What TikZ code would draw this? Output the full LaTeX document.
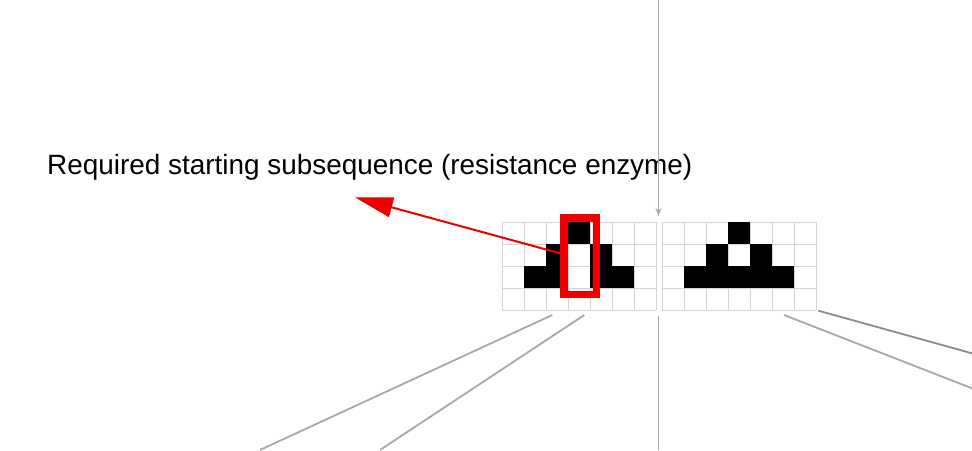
\documentclass[tikz,border=0pt]{standalone}
\usepackage{fontspec}
\setmainfont{Liberation Sans}
\usetikzlibrary{arrows.meta}
\definecolor{gridgray}{HTML}{D4D4D4}
\definecolor{linegray}{HTML}{A8A8A8}
\definecolor{darkgray2}{HTML}{8C8C8C}
\definecolor{redc}{HTML}{EE0000}
\tikzset{
  gridline/.style={draw=gridgray, line width=1pt},
  cellfill/.style={fill=black},
  grayline/.style={draw=linegray, line width=1.8pt},
  darkline/.style={draw=darkgray2, line width=1.8pt},
  redbox/.style={draw=redc, line width=7.3pt, minimum width=32.3pt, minimum height=76.7pt, inner sep=0pt},
  redarrow/.style={draw=redc, line width=2pt, -{Triangle[length=38pt,width=20pt]}},
  label/.style={font=\fontsize{27.9}{32}\selectfont, inner sep=0pt, anchor=base west},
  gridbox/.style={minimum width=154pt, minimum height=88pt, inner sep=0pt}
}
\begin{document}
\begin{tikzpicture}[x=1pt,y=-1pt]
\useasboundingbox[fill=white] (0,0) rectangle (972,450);
% grids
\node[gridbox] (gridL) at (579,266) {};
\node[gridbox] (gridR) at (739,266) {};
\foreach \x in {0,...,7} {
  \draw[gridline] (502+22*\x,222) -- (502+22*\x,310);
  \draw[gridline] (662+22*\x,222) -- (662+22*\x,310);
}
\foreach \y in {0,...,4} {
  \draw[gridline] (502,222+22*\y) -- (656,222+22*\y);
  \draw[gridline] (662,222+22*\y) -- (816,222+22*\y);
}
\foreach \c/\r in {3/0,2/1,4/1,1/2,2/2,4/2,5/2}
  \fill[cellfill] (502+22*\c,222+22*\r) rectangle ++(22,22);
\foreach \c/\r in {3/0,2/1,4/1,1/2,2/2,3/2,4/2,5/2}
  \fill[cellfill] (662+22*\c,222+22*\r) rectangle ++(22,22);
% text
\node[label] (txt) at (47,174) {Required starting subsequence (resistance enzyme)};
% vertical arrow from top
\coordinate (topin) at (658.5,0);
\coordinate (topend) at (658.5,216);
\draw[grayline,-{Stealth[length=8pt,width=6pt]}] (topin) -- (topend);
% lines below
\coordinate (b0) at (658.5,316);
\coordinate (b0e) at (658.5,450);
\draw[grayline] (b0) -- (b0e);
\coordinate (l1s) at (552.3,315);
\coordinate (l1e) at (260,450);
\draw[grayline] (l1s) -- (l1e);
\coordinate (l2s) at (584.3,315);
\coordinate (l2e) at (380,450);
\draw[grayline] (l2s) -- (l2e);
\coordinate (r1s) at (818.3,310.7);
\coordinate (r1e) at (972,353.3);
\draw[darkline] (r1s) -- (r1e);
\coordinate (r2s) at (784,315);
\coordinate (r2e) at (972,388.3);
\draw[grayline] (r2s) -- (r2e);
% red selection box and arrow
\node[redbox] (sel) at (580.2,256.4) {};
\coordinate (tip) at (355,197.3);
\draw[redarrow] ([yshift=3pt]sel.west) -- (tip);
\end{tikzpicture}
\end{document}
